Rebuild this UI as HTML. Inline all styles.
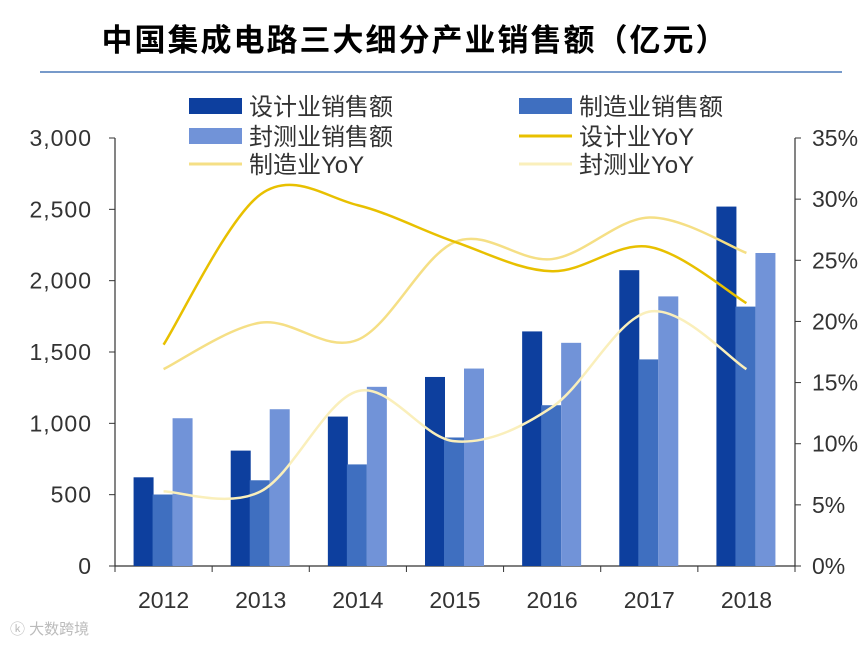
<!DOCTYPE html>
<html><head><meta charset="utf-8"><style>
body{margin:0;background:#fff;width:864px;height:643px;overflow:hidden;font-family:"Liberation Sans","Noto Sans CJK SC",sans-serif}
</style></head><body>
<svg id="c" width="864" height="643" xmlns="http://www.w3.org/2000/svg">
<text x="415" y="51" text-anchor="middle" font-size="31" font-weight="bold" font-family="'Noto Sans CJK SC',sans-serif" fill="#000" letter-spacing="2">中国集成电路三大细分产业销售额（亿元）</text>
<line x1="40" y1="72" x2="842" y2="72" stroke="#4a78b8" stroke-width="1.5"/>
<g id="legend" font-size="24" fill="#333" font-family="'Liberation Sans','Noto Sans CJK SC',sans-serif">
<rect x="189" y="98" width="53" height="16" fill="#0d3f9e"/>
<text x="249" y="115">设计业销售额</text>
<rect x="519" y="98" width="53" height="16" fill="#3f6fc0"/>
<text x="579" y="115">制造业销售额</text>
<rect x="189" y="128" width="53" height="16" fill="#7193d8"/>
<text x="249" y="145">封测业销售额</text>
<line x1="519" y1="136" x2="572" y2="136" stroke="#e8c000" stroke-width="3"/>
<text x="579" y="145">设计业YoY</text>
<line x1="189" y1="164" x2="242" y2="164" stroke="#f5df85" stroke-width="3"/>
<text x="249" y="173">制造业YoY</text>
<line x1="519" y1="164" x2="572" y2="164" stroke="#faefbb" stroke-width="3"/>
<text x="579" y="173">封测业YoY</text>
</g>
<g id="plot"></g>
<text x="10" y="634" font-size="15" fill="#bbb">ⓚ 大数跨境</text>
</svg>
<script>
const years=["2012","2013","2014","2015","2016","2017","2018"];
const design=[621.7,808.8,1047.4,1325,1644.3,2073.5,2519.3];
const manufacturing=[501.1,600.9,712.1,900.8,1126.9,1448.1,1818.2];
const packaging=[1035.7,1098.9,1255.9,1384,1564.3,1889.7,2193.9];
const designYoY=[18.1,30.4,29.5,26.5,24.1,26.1,21.5];
const manufacturingYoY=[16.1,19.9,18.5,26.5,25.1,28.5,25.6];
const packagingYoY=[6.1,6.1,14.3,10.2,13.0,20.8,16.1];
const leftTicks=[0,500,1000,1500,2000,2500,3000];
const rightTicks=[0,5,10,15,20,25,30,35];

const NS="http://www.w3.org/2000/svg";
const g=document.getElementById('plot');
const X0=115,X1=795,Y0=566,Y1=138;
const yL=v=>Y0-(v/3000)*(Y0-Y1);
const yR=v=>Y0-(v/35)*(Y0-Y1);
const band=(X1-X0)/years.length;
const xC=i=>X0+band*(i+0.5);
function el(t,a){const e=document.createElementNS(NS,t);for(const k in a)e.setAttribute(k,a[k]);g.appendChild(e);return e;}
function fmt(v){return v.toLocaleString('en-US');}

let e;
e=el('line',{x1:X0,y1:Y0,x2:X1,y2:Y0,stroke:'#333','stroke-width':1.2});


e=el('line',{x1:X0,y1:Y1,x2:X0,y2:Y0,stroke:'#333','stroke-width':1.2});


e=el('line',{x1:X1,y1:Y1,x2:X1,y2:Y0,stroke:'#333','stroke-width':1.2});



leftTicks.forEach(v=>{
  const y=yL(v);
  el('line',{x1:X0-6,y1:y,x2:X0,y2:y,stroke:'#333'});
  e=el('text',{x:92,y:y+8,'text-anchor':'end','font-size':23,fill:'#333','letter-spacing':1});
  e.textContent=fmt(v);
  
  
});
rightTicks.forEach(v=>{
  const y=yR(v);
  el('line',{x1:X1,y1:y,x2:X1+6,y2:y,stroke:'#333'});
  e=el('text',{x:812,y:y+8,'font-size':23,fill:'#333'});
  e.textContent=v+'%';
  
  
});
for(let i=0;i<=years.length;i++){
  const x=X0+band*i;
  el('line',{x1:x,y1:Y0,x2:x,y2:Y0+6,stroke:'#333'});
}
years.forEach((y,i)=>{
  e=el('text',{x:xC(i),y:608,'text-anchor':'middle','font-size':23,fill:'#333'});
  e.textContent=y;
  
  
});

const bw=20;
const series=[[design,'#0d3f9e','bar-design'],[manufacturing,'#3f6fc0','bar-manufacturing'],[packaging,'#7193d8','bar-packaging']];
series.forEach((s,k)=>{
  s[0].forEach((v,i)=>{
    const x=xC(i)-30+k*bw-(k?1:0);
    e=el('rect',{x:x,y:yL(v),width:bw,height:Y0-yL(v),fill:s[1]});
    
    
  });
});

function smooth(vals){
  const p=vals.map((v,i)=>[xC(i),yR(v)]);
  let d='M'+p[0][0]+','+p[0][1];
  for(let i=0;i<p.length-1;i++){
    const p0=p[i-1]||p[i],p1=p[i],p2=p[i+1],p3=p[i+2]||p[i+1];
    const t=1/3;
    const c1=[p1[0]+(p2[0]-p0[0])*t/2,p1[1]+(p2[1]-p0[1])*t/2];
    const c2=[p2[0]-(p3[0]-p1[0])*t/2,p2[1]-(p3[1]-p1[1])*t/2];
    d+=' C'+c1+' '+c2+' '+p2;
  }
  return d;
}
const lines=[[packagingYoY,'#faefbb','line-packaging-yoy'],[manufacturingYoY,'#f5df85','line-manufacturing-yoy'],[designYoY,'#e8c000','line-design-yoy']];
lines.forEach(l=>{
  e=el('path',{d:smooth(l[0]),fill:'none',stroke:l[1],'stroke-width':2.5});
  
  
});
</script>
</body></html>
